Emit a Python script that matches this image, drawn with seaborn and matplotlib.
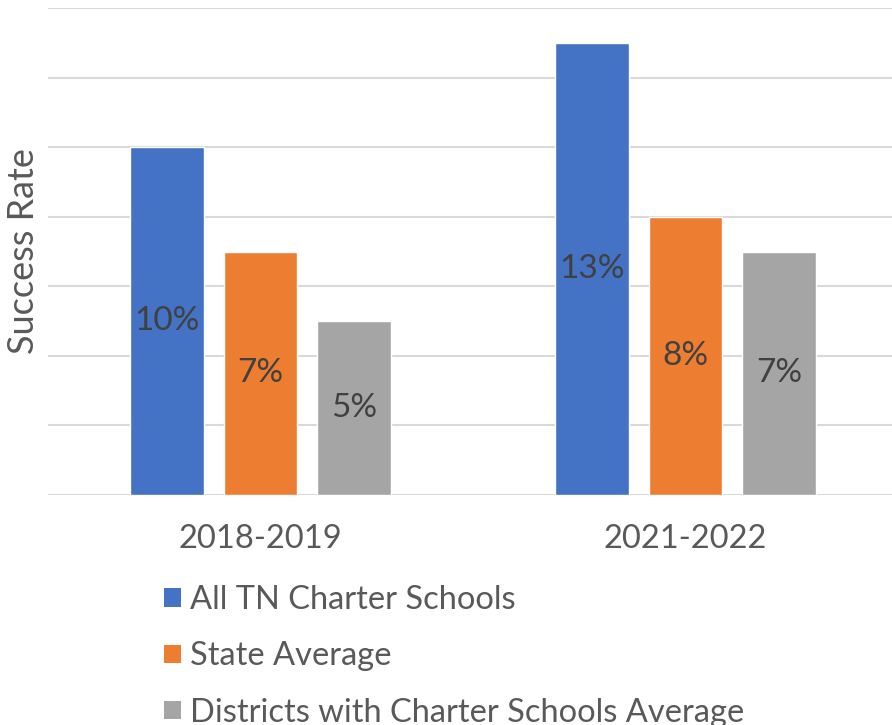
import matplotlib
matplotlib.use("Agg")
import matplotlib.pyplot as plt
import seaborn as sns
import pandas as pd
from matplotlib.patches import Patch

years = ["2018-2019", "2021-2022"]
series = ["All TN Charter Schools", "State Average", "Districts with Charter Schools Average"]
charter = [10, 13]
state = [7, 8]
districts = [5, 7]
colors = ["#4472C4", "#ED7D31", "#A5A5A5"]

rows = []
for s, vals in zip(series, [charter, state, districts]):
    for y, v in zip(years, vals):
        rows.append({"Year": y, "Series": s, "Value": v})
df = pd.DataFrame(rows)

sns.set_theme(style="white")
plt.rcParams['font.family'] = ['Lato', 'DejaVu Sans']

fig = plt.figure(figsize=(8.92, 7.25), dpi=100)
ax = fig.add_axes([48/892, 1-495/725, 850/892, (495-8)/725])

sns.barplot(data=df, x="Year", y="Value", hue="Series", palette=colors,
            width=0.663, gap=0.213, ax=ax, legend=False, saturation=1)

ax.set_ylim(0, 14)
ax.set_xlim(-0.5, 1.5)
ax.set_yticks(range(0, 15, 2))
ax.set_yticklabels([])
ax.tick_params(axis='y', length=0)
ax.tick_params(axis='x', length=0, labelsize=23.5, labelcolor="#595959", pad=21)
ax.yaxis.grid(True, color="#D9D9D9", linewidth=1.5)
ax.set_axisbelow(True)
for sp in ax.spines.values():
    sp.set_visible(False)
ax.set_xlabel("")
ax.set_ylabel("Success Rate", fontsize=26, color="#595959", labelpad=2)

for cont in ax.containers:
    ax.bar_label(cont, labels=[f"{int(v)}%" for v in cont.datavalues],
                 label_type="center", fontsize=24, color="#404040")

handles = [Patch(facecolor=c, edgecolor="none") for c in colors]
fig.legend(handles, series, loc="upper left", bbox_to_anchor=(148/892, 1-569/725),
           frameon=False, fontsize=23.5, labelcolor="#595959", handlelength=0.5,
           handleheight=0.5, handletextpad=0.3, labelspacing=0.8, borderpad=0)

fig.savefig("out.png", dpi=100)
